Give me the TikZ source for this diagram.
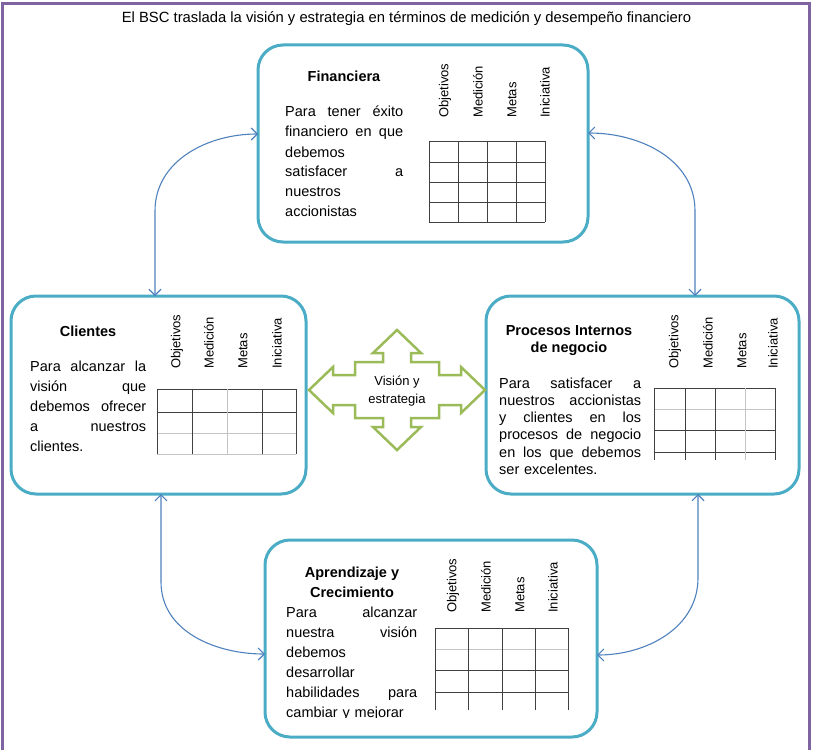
\documentclass[tikz,border=0pt]{standalone}
\usepackage{fontspec}
\setmainfont{Liberation Sans}
\usetikzlibrary{arrows.meta,calc}
\definecolor{frameP}{HTML}{8064A2}
\definecolor{boxB}{HTML}{4BACC6}
\definecolor{arrB}{HTML}{4F81BD}
\definecolor{grnA}{HTML}{9BBB59}
\definecolor{gridD}{HTML}{404040}
\definecolor{gridL}{HTML}{C4C4C4}
\begin{document}
\begin{tikzpicture}[x=1pt,y=-1pt,
  panel/.style={draw=boxB, line width=3pt, rounded corners=25pt, anchor=north west, inner sep=0pt, outer sep=0pt},
  conn/.style={draw=arrB, line width=1.1pt, {Straight Barb[length=6pt,width=12pt]}-{Straight Barb[length=6pt,width=12pt]}},
  ttl/.style={font=\fontsize{14.5}{17}\selectfont\bfseries, align=center, inner sep=0pt, anchor=base},
  body/.style={font=\fontsize{14.5}{20}\selectfont, align=left, inner sep=0pt, anchor=base west},
  col/.style={font=\fontsize{13}{15}\selectfont, rotate=90, anchor=west, inner sep=0pt},
  gd/.style={draw=gridD, line width=0.8pt},
  gl/.style={draw=gridL, line width=0.8pt},
]
\clip (0,0) rectangle (813,749);
\draw[frameP, line width=3pt] (2.5,3.5) rectangle (809.5,770);
\node[font=\fontsize{14.8}{17}\selectfont, anchor=base, inner sep=0pt] (title) at (406.5,23) {El BSC traslada la visión y estrategia en términos de medición y desempeño financiero};

% panels
\node[panel, minimum width=330pt, minimum height=197pt] (fin) at (258,45) {};
\node[panel, minimum width=295pt, minimum height=198pt] (cli) at (11,296) {};
\node[panel, minimum width=313pt, minimum height=198pt] (pro) at (486,296) {};
\node[panel, minimum width=332pt, minimum height=197pt] (apr) at (265,540) {};

% connectors
\draw[conn] ([yshift=9.5pt]fin.west) to[out=180,in=90] ([xshift=-3.5pt,yshift=85pt]cli.north) -- ([xshift=-3.5pt]cli.north);
\draw[conn] ([yshift=10.5pt]fin.east) to[out=0,in=90] ([xshift=52.5pt,yshift=85pt]pro.north) -- ([xshift=52.5pt]pro.north);
\draw[conn] ([xshift=2.5pt]cli.south) -- ([xshift=2.5pt,yshift=-88pt]cli.south) to[out=-90,in=180] ([yshift=-15.5pt]apr.west);
\draw[conn] ([xshift=55.5pt]pro.south) -- ([xshift=55.5pt,yshift=-84pt]pro.south) to[out=-90,in=0] ([yshift=-16.5pt]apr.east);

% central quad arrow
\begin{scope}[shift={(397,390)}]
\draw[grnA, line width=2.5pt, line join=miter] (0,-60) -- (24,-37) -- (14,-37) -- (14,-28) -- (42,-28) -- (42,-15) -- (64,-15) -- (64,-23) -- (88,0) -- (64,23) -- (64,15) -- (42,15) -- (42,28) -- (14,28) -- (14,37) -- (24,37) -- (0,60) -- (-24,37) -- (-14,37) -- (-14,28) -- (-42,28) -- (-42,15) -- (-64,15) -- (-64,23) -- (-88,0) -- (-64,-23) -- (-64,-15) -- (-42,-15) -- (-42,-28) -- (-14,-28) -- (-14,-37) -- (-24,-37) -- cycle;
\end{scope}
\node[font=\fontsize{13}{18}\selectfont, align=center, inner sep=0pt] (vis) at (397,391) {Visión y\\estrategia};

% Financiera
\node[ttl] (finT) at (344,82) {Financiera};
\node[body, text width=118pt] (finB) at (285,117) {Para\hfill tener\hfill éxito\\financiero\hfill en\hfill que\\debemos\\satisfacer\hfill a\\nuestros\\accionistas};
\node[col] (finC1) at (445,118) {Objetivos};
\node[col] (finC2) at (478,118) {Medición};
\node[col] (finC3) at (512,118) {Metas};
\node[col] (finC4) at (545,118) {Iniciativa};
\foreach \y in {141,162,182,202,222} \draw[gd] (429,\y) -- (545,\y);
\foreach \x in {429,458,487,516,545} \draw[gd] (\x,141) -- (\x,222);

% Clientes
\node[ttl] (cliT) at (88,336) {Clientes};
\node[body, text width=116pt] (cliB) at (30,371) {Para\hfill alcanzar\hfill la\\visión\hfill que\\debemos\hfill ofrecer\\a\hfill nuestros\\clientes.};
\node[col] (cliC1) at (177,369) {Objetivos};
\node[col] (cliC2) at (209,369) {Medición};
\node[col] (cliC3) at (243,369) {Metas};
\node[col] (cliC4) at (277,369) {Iniciativa};
\draw[gd] (157,389) -- (296,389);
\draw[gd] (157,412) -- (296,412);
\draw[gl] (157,433) -- (296,433);
\draw[gl] (157,454) -- (296,454);
\foreach \x in {157,192,262,296} \draw[gd] (\x,389) -- (\x,454);
\draw[gl] (227,389) -- (227,454);

% Procesos
\node[ttl] (proT) at (569,352) {Procesos Internos\\de negocio};
\node[body, text width=142pt, font=\fontsize{14.5}{17.3}\selectfont] (proB) at (499,388) {Para\hfill satisfacer\hfill a\\nuestros\hfill accionistas\\y\hfill clientes\hfill en\hfill los\\procesos\hfill de\hfill negocio\\en\hfill los\hfill que\hfill debemos\\ser excelentes.};
\node[col] (proC1) at (675,369) {Objetivos};
\node[col] (proC2) at (708,369) {Medición};
\node[col] (proC3) at (742,369) {Metas};
\begin{scope}
\clip (760,300) rectangle (777,380);
\node[col] (proC4) at (773,369) {Iniciativa};
\end{scope}
\draw[gd] (654,388) -- (775,388);
\draw[gl] (654,409) -- (775,409);
\draw[gd] (654,430) -- (775,430);
\draw[gd] (654,452) -- (775,452);
\foreach \x in {654,685,715,775} \draw[gd] (\x,388) -- (\x,460);
\draw[gl] (745,388) -- (745,460);

% Aprendizaje
\node[ttl, font=\fontsize{14.5}{20}\selectfont\bfseries] (aprT) at (352,597) {Aprendizaje y\\Crecimiento};
\begin{scope}
\clip (280,598) rectangle (425,717);
\node[body, text width=131pt] (aprB) at (286,617) {Para\hfill alcanzar\\nuestra\hfill visión\\debemos\\desarrollar\\habilidades\hfill para\\cambiar y mejorar};
\end{scope}
\node[col] (aprC1) at (453,613) {Objetivos};
\node[col] (aprC2) at (486,613) {Medición};
\node[col] (aprC3) at (520,613) {Metas};
\node[col] (aprC4) at (553,613) {Iniciativa};
\draw[gd] (435,628) -- (568,628);
\draw[gl] (435,649) -- (568,649);
\draw[gd] (435,670) -- (568,670);
\draw[gd] (435,692) -- (568,692);
\foreach \x in {435,468,502,535,568} \draw[gd] (\x,628) -- (\x,710);
\end{tikzpicture}
\end{document}
